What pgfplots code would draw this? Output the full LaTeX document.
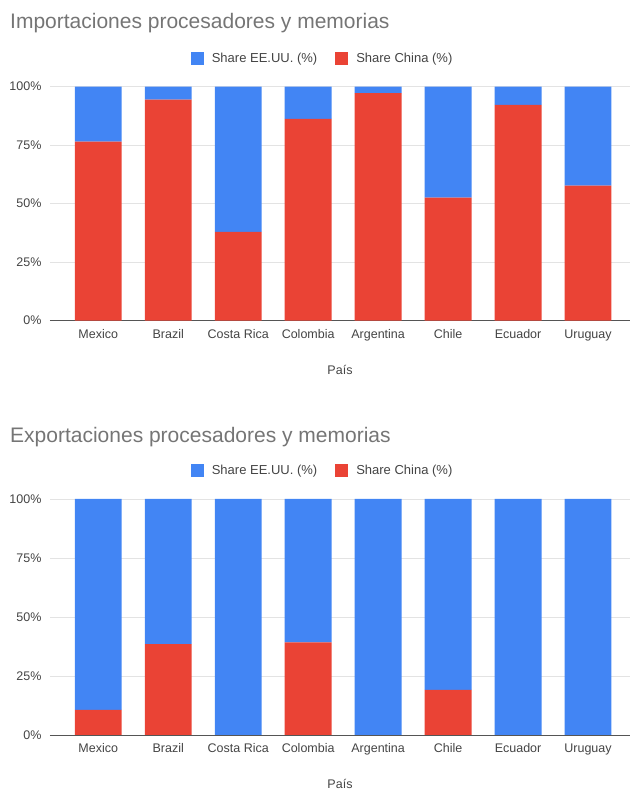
\documentclass[border=0pt]{standalone}
\usepackage{pgfplots}
\usepackage{pgfplotstable}
\pgfplotsset{compat=1.18}
\usepackage{fontspec}
\setmainfont{Liberation Sans}
\definecolor{gblue}{HTML}{4285F4}
\definecolor{gred}{HTML}{EA4335}
\definecolor{ggrid}{HTML}{E3E3E3}
\definecolor{gtext}{HTML}{444444}
\definecolor{gtitle}{HTML}{757575}
\definecolor{gaxis}{HTML}{555555}

\pgfplotstableread{
x china us
0 76.5 23.5
1 94.5 5.5
2 38.0 62.0
3 86.2 13.8
4 97.3 2.7
5 52.6 47.4
6 92.2 7.8
7 57.7 42.3
}\imports
\pgfplotstableread{
x china us
0 10.6 89.4
1 38.5 61.5
2 0 100
3 39.3 60.7
4 0 100
5 19.1 80.9
6 0 100
7 0 100
}\exports

\pgfplotsset{
  gchart/.style={
    ybar stacked, scale only axis, width=580pt,
    xmin=-0.69, xmax=7.6, ymin=0, ymax=100,
    bar width=0.67,
    axis x line*=bottom, axis y line*=left,
    y axis line style={draw=none},
    x axis line style={draw=gaxis, line width=0.9pt, -},
    major tick length=0pt,
    ymajorgrids, grid style={ggrid, line width=0.8pt},
    ytick={0,25,50,75,100},
    yticklabel={\pgfmathprintnumber{\tick}\%},
    /pgf/number format/assume math mode=true,
    xtick={0,...,7},
    xticklabels={Mexico,Brazil,Costa Rica,Colombia,Argentina,Chile,Ecuador,Uruguay},
    ticklabel style={font=\fontsize{12.5}{14}\selectfont, text=gtext},
    yticklabel style={anchor=east, xshift=-5pt},
    xticklabel style={anchor=base, yshift=-18pt},
    xlabel={País},
    xlabel style={at={(axis description cs:0.5,0)}, anchor=center, yshift=-49pt, font=\fontsize{12.5}{14}\selectfont, text=gtext},
    legend columns=2, reverse legend,
    legend style={at={(0.47,1.12)}, anchor=center, draw=none, fill=none,
      font=\fontsize{13}{15}\selectfont, text=gtext,
      /tikz/every odd column/.append style={column sep=6pt},
      /tikz/every even column/.append style={column sep=16pt}},
    legend image code/.code={\fill[##1] (0pt,-6.5pt) rectangle (13pt,6.5pt);},
  }
}

\begin{document}
\begin{tikzpicture}
\useasboundingbox (0,0) rectangle (633pt,790pt);
\node[anchor=base west, text=gtitle, font=\fontsize{21}{24}\selectfont, inner sep=0pt] at (10pt,761pt) {Importaciones procesadores y memorias};
\begin{axis}[gchart, height=234pt, at={(50pt,469.3pt)}, anchor=south west]
\addplot[fill=gred, draw=none] table[x=x, y=china] {\imports};
\addplot[fill=gblue, draw=none] table[x=x, y=us] {\imports};
\legend{Share China (\%), Share EE.UU. (\%)}
\end{axis}

\node[anchor=base west, text=gtitle, font=\fontsize{21}{24}\selectfont, inner sep=0pt] at (10pt,347pt) {Exportaciones procesadores y memorias};
\begin{axis}[gchart, height=236pt, at={(50pt,55pt)}, anchor=south west]
\addplot[fill=gred, draw=none] table[x=x, y=china] {\exports};
\addplot[fill=gblue, draw=none] table[x=x, y=us] {\exports};
\legend{Share China (\%), Share EE.UU. (\%)}
\end{axis}
\end{tikzpicture}
\end{document}
